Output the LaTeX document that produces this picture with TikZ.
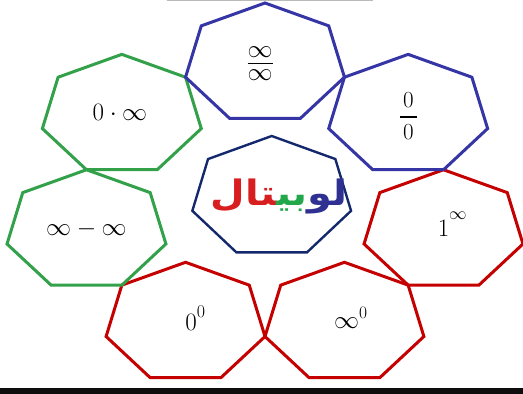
\RequirePackage{fix-cm}
\documentclass[tikz,border=0pt]{standalone}
\usepackage{amsmath}
\usepackage{fontspec}
\newfontfamily\arabicfont[Script=Arabic]{DejaVu Sans}
\definecolor{hred}{HTML}{C40000}
\definecolor{hgreen}{HTML}{33A04A}
\definecolor{hblue}{HTML}{3535A5}
\definecolor{hnavy}{HTML}{14286E}
\definecolor{tblue}{HTML}{2E3192}
\definecolor{tgreen}{HTML}{22A84A}
\definecolor{tred}{HTML}{D81E1E}
\newcommand\heptagon[4]{\draw[hept,#3] plot[samples at={0,1,2,3,4,5,6}]
  ({#1+81.5*cos(270+\x*360/7)},{#2+#4*sin(270+\x*360/7)}) -- cycle;}
\begin{document}
\begin{tikzpicture}[x=1pt,y=-1pt,
  hept/.style={line width=3pt,line join=miter},
  expr/.style={inner sep=0pt,font=\fontsize{25}{29}\selectfont},
  title/.style={inner sep=0pt,font=\arabicfont\bfseries\fontsize{35}{40}\selectfont}]
\useasboundingbox (0,0) rectangle (523,394);
% top grey line and bottom black bar
\draw[line width=1.2pt,color=black!27] (166.7,0.6) -- (373,0.6);
\fill[black!95] (0,388) rectangle (523,394);
% red heptagons
\heptagon{443.53}{230.45}{hred}{60.7}
\heptagon{344.45}{322.99}{hred}{60.7}
\heptagon{185.55}{322.99}{hred}{60.7}
% green heptagons
\heptagon{121.83}{115.06}{hgreen}{60.7}
\heptagon{86.47}{230.45}{hgreen}{60.7}
% blue heptagons
\heptagon{265}{63.7}{hblue}{60.7}
\heptagon{408.17}{115.06}{hblue}{60.7}
% centre heptagon
\draw[hept,hnavy,line width=2.4pt] plot[samples at={0,1,2,3,4,5,6}]
  ({271.7+81.4*cos(270+\x*360/7)},{197.2+61.2*sin(270+\x*360/7)}) -- cycle;
% texts
\node[expr] (t1) at (260,63.5) {$\genfrac{}{}{1.8pt}{1}{\raisebox{2.5pt}{$\infty$}}{\raisebox{-2pt}{$\infty$}}$};
\node[expr,font=\fontsize{23}{27}\selectfont] (t2) at (408.3,115.8) {$\genfrac{}{}{2pt}{1}{\raisebox{6pt}{\hspace{3pt}$0$\hspace{3pt}}}{\raisebox{-8.6pt}{$0$}}$};
\node[expr,anchor=base] (t3) at (120,120) {$0\cdot\infty$};
\node[expr,anchor=base] (t4) at (86.5,235) {$\infty-\infty$};
\node[expr,anchor=base] (t5) at (452.5,236) {$1^{\raisebox{7pt}{$\scriptstyle\infty$}}$};
\node[expr,anchor=base] (t6) at (195.5,330) {$0^{\raisebox{3pt}{\fontsize{18}{20}\selectfont 0}}$};
\node[expr,anchor=base] (t7) at (351,328) {$\infty^0$};
% Arabic word, chunks written in visual (left-to-right) order so that colour changes keep their place
\node[title] (name) at (279,196) {\scalebox{1.14}[1]{{\color{tred}^^^^200dتال}{\color{tgreen}بي^^^^200d}{\color{tblue}لو}}};
\end{tikzpicture}
\end{document}
